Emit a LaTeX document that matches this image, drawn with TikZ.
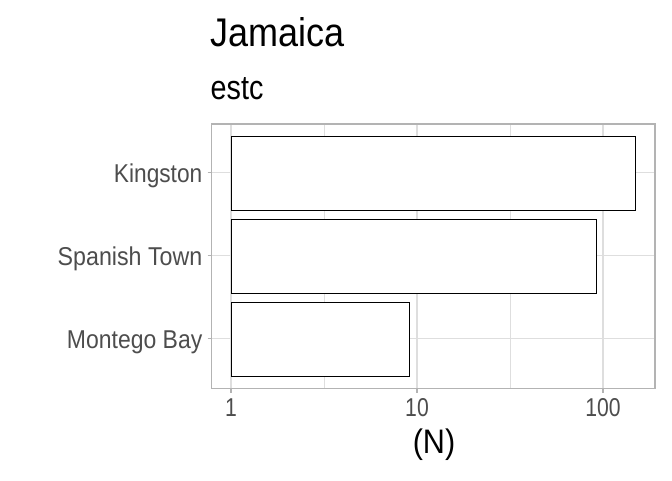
\documentclass[tikz,border=0pt]{standalone}
\usepackage{graphicx}
\usepackage{fontspec}
\setmainfont{Liberation Sans}
\definecolor{gridc}{HTML}{DEDEDE}
\definecolor{borderc}{HTML}{B3B3B3}
\definecolor{tickc}{HTML}{4D4D4D}
\newcommand{\nx}[2]{\scalebox{#1}[1]{#2}}
\begin{document}
\begin{tikzpicture}[x=1pt,y=-1pt,
  major/.style={draw=gridc,line width=1.1pt},
  minor/.style={draw=gridc,line width=0.6pt},
  bar/.style={draw=black,fill=white,line width=0.9pt},
  ticklab/.style={text=tickc,inner sep=0pt,font=\fontsize{25.8}{28}\selectfont},
  axtick/.style={draw=borderc,line width=1.1pt}]
\useasboundingbox[fill=white] (0,0) rectangle (672,480);
% grid
\draw[minor] (324.3,124) -- (324.3,388.3);
\draw[minor] (510.3,124) -- (510.3,388.3);
\foreach \x in {231,417,603} \draw[major] (\x,124) -- (\x,388.3);
\foreach \y in {172.3,255.7,338.7} \draw[major] (211.7,\y) -- (655,\y);
% bars
\draw[bar] (231,136.3) rectangle (635.3,210);
\draw[bar] (231,219.3) rectangle (596.3,293);
\draw[bar] (231,302.3) rectangle (409.3,376.3);
% border
\draw[draw=borderc,line width=1.5pt] (211.7,124) rectangle (655,388.3);
% ticks
\foreach \y in {172.3,255.7,338.7} \draw[axtick] (207.5,\y) -- (211.7,\y);
\foreach \x in {231,417,603} \draw[axtick] (\x,388.3) -- (\x,392.5);
% labels
\node[ticklab,anchor=base east] (lk) at (202.5,182.3) {\nx{0.88}{Kingston}};
\node[ticklab,anchor=base east] (ls) at (202.5,265.5) {\nx{0.9}{Spanish Town}};
\node[ticklab,anchor=base east] (lm) at (202.5,348.5) {\nx{0.89}{Montego Bay}};
\node[ticklab,anchor=base] (t1) at (231,416) {\nx{0.82}{1}};
\node[ticklab,anchor=base] (t10) at (417,416) {\nx{0.82}{10}};
\node[ticklab,anchor=base] (t100) at (603,416) {\nx{0.82}{100}};
\node[inner sep=0pt,anchor=base,font=\fontsize{34}{40}\selectfont] (xt) at (434,453.3) {\nx{0.9}{(N)}};
\node[inner sep=0pt,anchor=base west,font=\fontsize{40}{44}\selectfont] (title) at (210,46.5) {\nx{0.9}{Jamaica}};
\node[inner sep=0pt,anchor=base west,font=\fontsize{34}{38}\selectfont] (sub) at (210.5,99.5) {\nx{0.845}{estc}};
\end{tikzpicture}
\end{document}
